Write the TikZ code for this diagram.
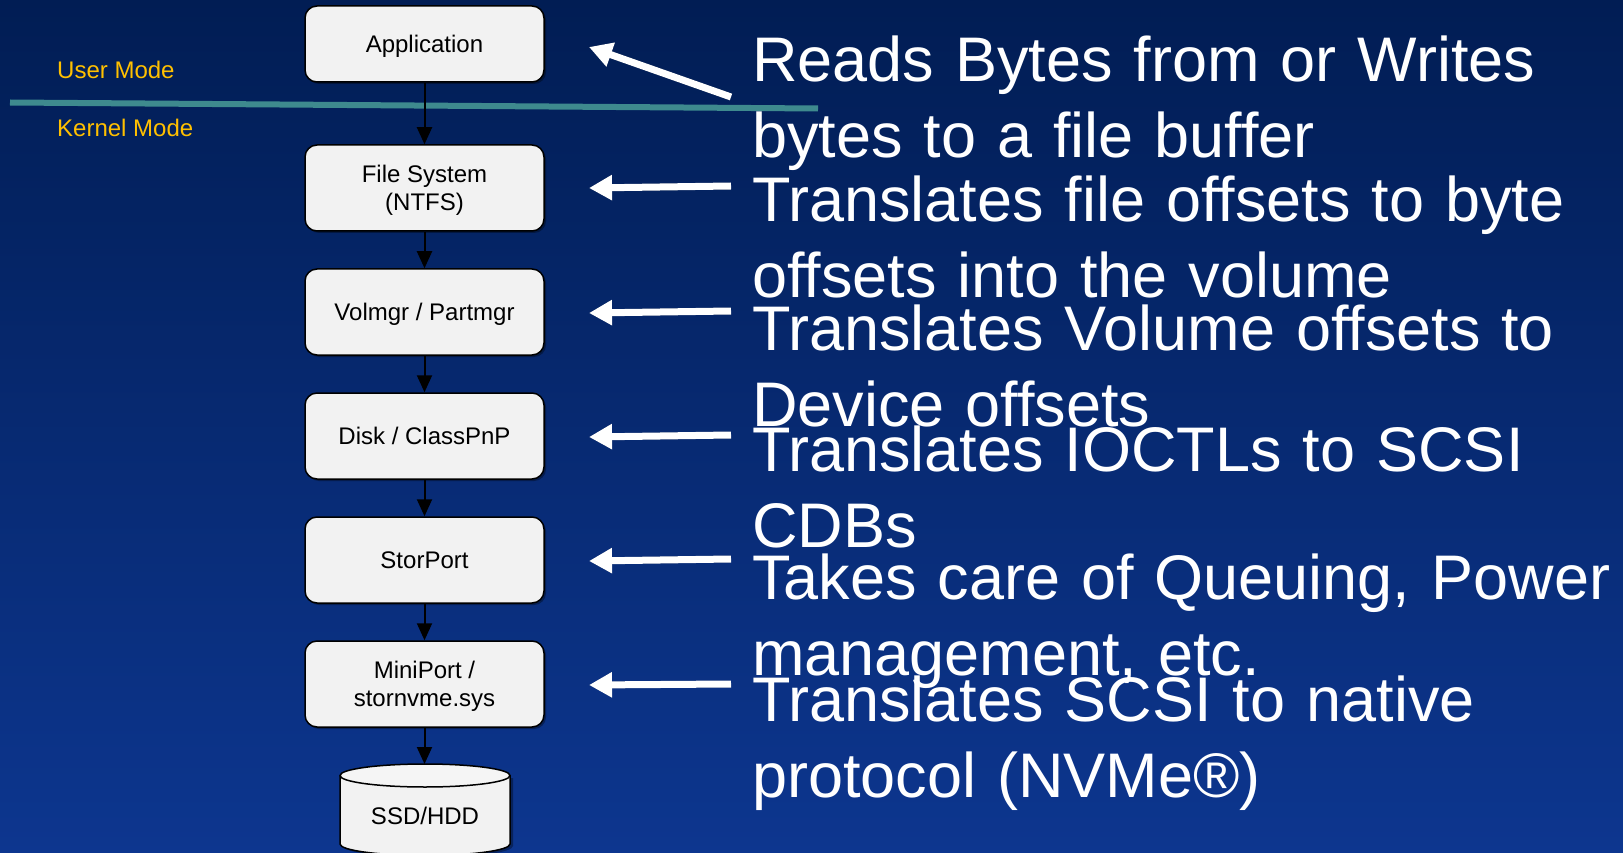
\documentclass[tikz,border=0pt]{standalone}
\usepackage{fontspec}
\setmainfont{Liberation Sans}
\usetikzlibrary{arrows.meta,shadows}

\definecolor{bgtop}{RGB}{1,29,84}
\definecolor{bgmid}{RGB}{11,43,113}
\definecolor{bgbot}{RGB}{13,54,143}
\definecolor{modeline}{RGB}{62,138,142}
\definecolor{modegold}{RGB}{255,192,0}
\definecolor{boxfill}{RGB}{242,242,242}

\begin{document}
\begin{tikzpicture}[x=1pt,y=-1pt,
  layer/.style={draw=black, line width=1.5pt, fill=boxfill, rounded corners=12pt,
    minimum width=239pt, minimum height=86pt, inner sep=0pt, align=center,
    text depth=0pt, font=\fontsize{24}{28}\selectfont,
    drop shadow={shadow xshift=2pt, shadow yshift=-2pt, opacity=.35, fill=black}},
  flow/.style={-{Triangle[length=17pt,width=15pt]}, line width=2pt, black},
  callout/.style={white, line width=7pt, -{Triangle[length=23pt,width=24pt]}},
  calloutshadow/.style={black, opacity=.3, line width=7pt, -{Triangle[length=23pt,width=24pt]}},
  note/.style={anchor=base west, text=white, inner sep=0pt, text width=880pt, align=left,
    font=\fontsize{63}{76}\selectfont},
  mode/.style={anchor=base west, text=modegold, inner sep=0pt,
    font=\fontsize{24}{28}\selectfont}]

\useasboundingbox (0,0) rectangle (1623,853);
% background
\fill[top color=bgtop, middle color=bgmid, bottom color=bgbot] (0,0) rectangle (1623,853);

% user / kernel boundary
\draw[modeline, line width=6pt] (10,102.5) -- (818,108.5);
\node[mode] (user) at (57,79) {User Mode};
\node[mode] (kernel) at (57,136.7) {Kernel Mode};

% driver stack
\node[layer, minimum height=76pt] (app) at (424.5,44) {Application};
\node[layer] (fs) at (424.5,188) {File System\\(NTFS)};
\node[layer] (vol) at (424.5,312) {Volmgr / Partmgr};
\node[layer] (disk) at (424.5,436) {Disk / ClassPnP};
\node[layer] (stor) at (424.5,560) {StorPort};
\node[layer] (mini) at (424.5,684) {MiniPort /\\stornvme.sys};

% storage device (cylinder)
\fill[black, opacity=.35] (343,778) -- (343,846) arc[start angle=180, end angle=0, x radius=85, y radius=11.5] -- (513,778) -- cycle;
\filldraw[fill=boxfill, draw=black, line width=1.5pt]
  (340,775.5) -- (340,844) arc[start angle=180, end angle=0, x radius=85, y radius=11.5] -- (510,775.5);
\filldraw[fill=white!96!black, draw=black, line width=1.5pt] (425,775.5) ellipse[x radius=85, y radius=11.5];
\node[font=\fontsize{24}{28}\selectfont, anchor=base, inner sep=0pt] (ssd) at (425,824) {SSD/HDD};
\coordinate (ssdtop) at (424.5,764);

% flow between layers
\draw[flow] (app) -- (fs);
\draw[flow] (fs) -- (vol);
\draw[flow] (vol) -- (disk);
\draw[flow] (disk) -- (stor);
\draw[flow] (stor) -- (mini);
\draw[flow] (mini.south) -- (ssdtop);

% callout arrows
\coordinate (t1) at (731,97);   \coordinate (h1) at (589,47);
\coordinate (t2) at (731,186);  \coordinate (h2) at (589,188);
\coordinate (t3) at (731,311);  \coordinate (h3) at (589,313);
\coordinate (t4) at (731,435);  \coordinate (h4) at (589,437);
\coordinate (t5) at (731,559);  \coordinate (h5) at (589,561);
\coordinate (t6) at (731,684);  \coordinate (h6) at (589,685);
\foreach \i in {1,...,6}{
  \draw[calloutshadow, shift={(2,2)}] (t\i) -- (h\i);
  \draw[callout] (t\i) -- (h\i);
}

% descriptions
\node[note] (n1) at (752,81.7) {Reads Bytes from or Writes\\bytes to a file buffer};
\node[note] (n2) at (752,221.7) {Translates file offsets to byte\\offsets into the volume};
\node[note] (n3) at (752,350.7) {Translates Volume offsets to\\Device offsets};
\node[note] (n4) at (752,471.7) {Translates IOCTLs to SCSI\\CDBs};
\node[note] (n5) at (752,599.3) {Takes care of Queuing, Power\\management, etc.};
\node[note] (n6) at (752,721) {Translates SCSI to native\\protocol (NVMe®)};
\end{tikzpicture}
\end{document}
